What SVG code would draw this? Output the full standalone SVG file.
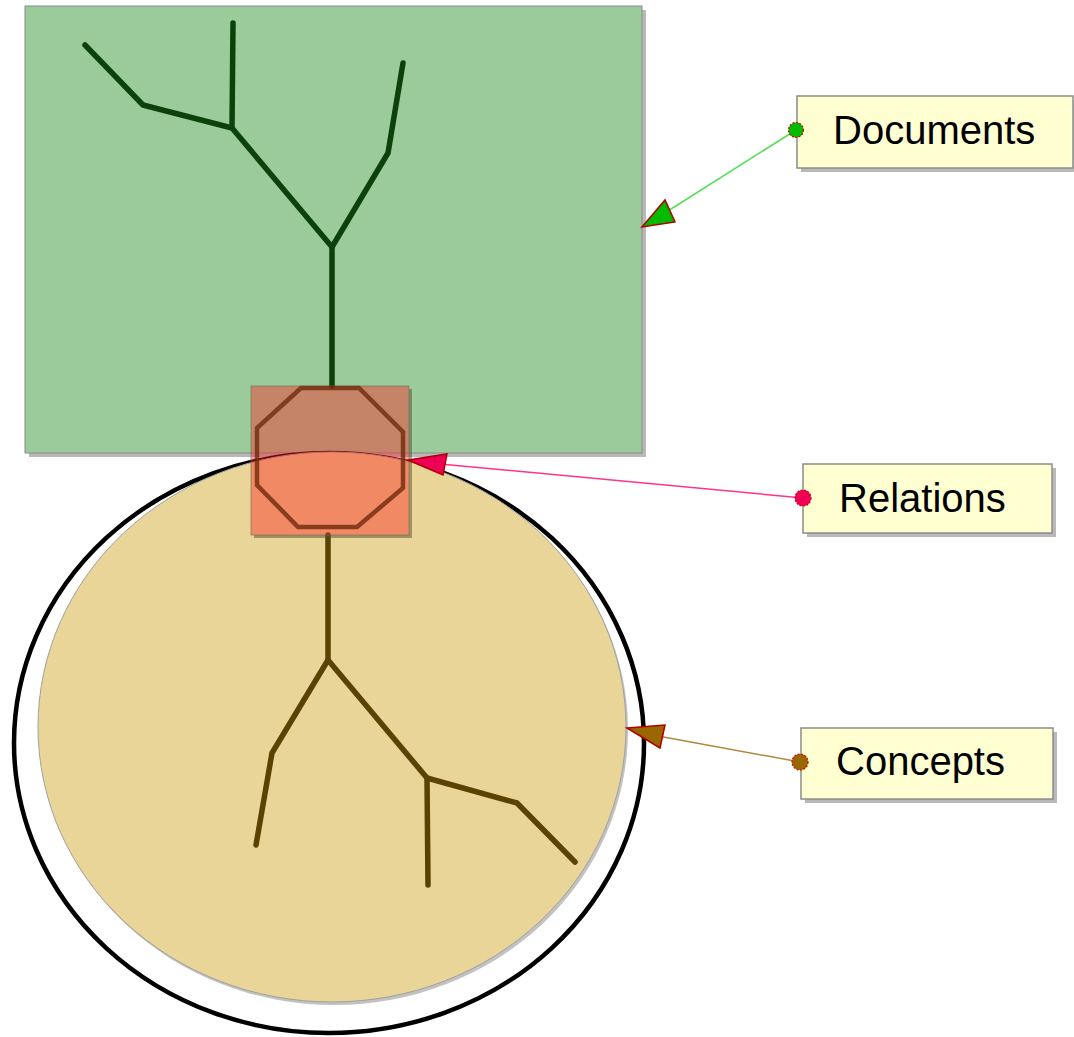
<svg xmlns="http://www.w3.org/2000/svg" width="1074" height="1037" viewBox="0 0 1074 1037">
<defs>
<style>
.branch{fill:none;stroke-width:5.5;stroke-linecap:round;stroke-linejoin:round}
.doc{stroke:#0B420B}
.con{stroke:#5A4300}
.shadow{fill:#808080;opacity:0.55}
.label{fill:#FFFFD2;stroke:#8C8C8C;stroke-width:1.5}
.txt{font-family:"Liberation Sans",Arial,sans-serif;font-size:40px;fill:#000}
.dot{stroke:#CC0000;stroke-width:1.2;stroke-dasharray:2 1.5}
.head{stroke:#B00000;stroke-width:1.5;stroke-linejoin:miter}
</style>
</defs>
<rect width="1074" height="1037" fill="#FFFFFF"/>
<g id="documents-area">
<rect class="shadow" x="29" y="10" width="617" height="447"/>
<rect x="25" y="6" width="617" height="447" fill="#9BCB9B" stroke="#8A8A8A" stroke-width="1"/>
<polyline class="branch doc" points="85,45 143,105 232,128 332,247 332,386"/>
<polyline class="branch doc" points="233,23 232,128"/>
<polyline class="branch doc" points="403,63 388,153 332,247"/>
</g>
<g id="concepts-area">
<ellipse cx="329" cy="743" rx="315" ry="290" fill="none" stroke="#000" stroke-width="4.5"/>
<ellipse cx="334" cy="730" rx="294" ry="275" fill="#9A9A9A" opacity="0.6"/>
<ellipse cx="332" cy="727" rx="294" ry="275" fill="#E8D597" stroke="#A0A0A0" stroke-width="1"/>
<polyline class="branch con" points="328,535 328,660 272,753 256,845"/>
<polyline class="branch con" points="328,660 427,778 428,885"/>
<polyline class="branch con" points="427,778 517,803 575,862"/>
</g>
<g id="relations-area">
<path d="M409,389 h3 v149 h-158 v-3 h155 z" fill="#505030" opacity="0.5"/>
<rect x="251" y="386" width="158" height="149" fill="#FF2222" fill-opacity="0.42" stroke="#6E6E50" stroke-width="1" stroke-opacity="0.6"/>
<polygon points="301,388 359,388 403,432 403,488 357,527 298,527 257,485 257,428" fill="none" stroke="#6E2A0C" stroke-width="4.5" stroke-opacity="0.8"/>
</g>
<g id="label-documents">
<rect class="shadow" x="801" y="100" width="276" height="72"/>
<rect class="label" x="797" y="96" width="276" height="72"/>
<text class="txt" x="833" y="144">Documents</text>
</g>
<g id="label-relations">
<rect class="shadow" x="807" y="468" width="249" height="69"/>
<rect class="label" x="803" y="464" width="249" height="69"/>
<text class="txt" x="839" y="512">Relations</text>
</g>
<g id="label-concepts">
<rect class="shadow" x="805" y="732" width="252" height="71"/>
<rect class="label" x="801" y="728" width="252" height="71"/>
<text class="txt" x="836" y="775">Concepts</text>
</g>
<g id="connectors">
<line x1="796" y1="130" x2="660" y2="216" stroke="#55DD55" stroke-width="1.5"/>
<polygon class="head" points="642,227 665,200 675,222" fill="#00BB00"/>
<circle class="dot" cx="796" cy="130" r="7.5" fill="#00BB00"/>
<line x1="803" y1="498" x2="440" y2="464" stroke="#FF3388" stroke-width="1.5"/>
<polygon class="head" points="408,460 447,454 443,475" fill="#EE0055"/>
<circle class="dot" cx="803" cy="498" r="8" fill="#EE0055"/>
<line x1="800" y1="762" x2="658" y2="736" stroke="#B08840" stroke-width="1.5"/>
<polygon class="head" points="627,728 665,725 660,748" fill="#996600"/>
<circle class="dot" cx="800" cy="762" r="8" fill="#996600"/>
</g>
</svg>
